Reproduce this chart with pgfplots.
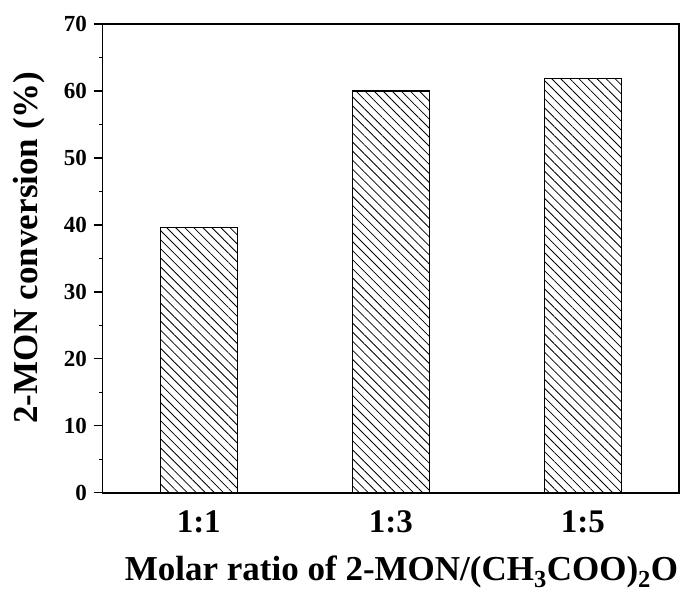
\documentclass[border=0pt]{standalone}
\usepackage{pgfplots}
\pgfplotsset{compat=1.18}
\usepackage{fontspec}
\setmainfont{Liberation Serif}
\usetikzlibrary{patterns.meta}
\begin{document}
\begin{tikzpicture}
\useasboundingbox (-102.7bp,-102.3bp) rectangle (582.3bp,492.7bp);
\begin{axis}[
  at={(0,0)}, anchor=south west,
  scale only axis, width=576.3bp, height=468.7bp,
  xmin=-0.5, xmax=2.5, ymin=0, ymax=70,
  xtick={0,1,2}, xticklabels={1:1,1:3,1:5},
  ytick={0,10,...,70}, minor y tick num=1,
  xtick pos=bottom, ytick pos=left,
  tick align=outside,
  major tick length=9bp, minor tick length=4bp,
  every tick/.style={black, line width=1.4bp},
  axis line style={line width=1.6bp},
  x tick style={draw=none},
  /pgf/number format/assume math mode=true,
  yticklabel style={font=\fontsize{23bp}{23bp}\selectfont\bfseries, anchor=east, inner sep=0pt, xshift=-6.7bp},
  xticklabel style={font=\fontsize{33bp}{33bp}\selectfont\bfseries, anchor=base, inner sep=0pt, yshift=-31bp},
  xlabel={Molar ratio of 2-MON/(CH$_{\mathbf 3}$COO)$_{\mathbf 2}$O},
  ylabel={2-MON conversion (\%)},
  xlabel style={font=\fontsize{35bp}{35bp}\selectfont\bfseries, at={(axis description cs:0.5185,-0.1863)}, anchor=base, inner sep=0pt},
  ylabel style={font=\fontsize{35bp}{35bp}\selectfont\bfseries, at={(axis description cs:-0.128,0.523)}, anchor=center, inner sep=0pt},
  clip=false,
]
\addplot[ybar, bar width=0.4, draw=black, line width=1.1bp,
  pattern={Lines[angle=-45, distance=6.4bp, line width=0.8bp]}, pattern color=black]
  coordinates {(0,39.6) (1,60.0) (2,61.8)};
\end{axis}
\end{tikzpicture}
\end{document}
